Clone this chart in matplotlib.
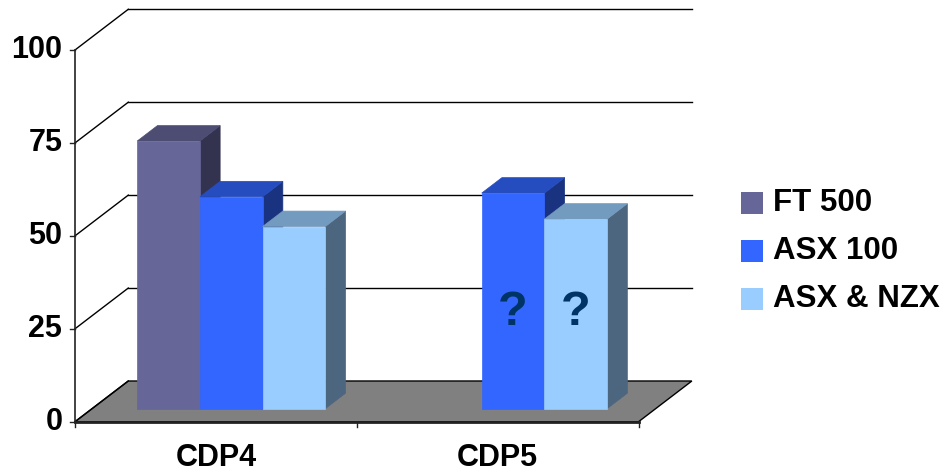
import matplotlib
matplotlib.use("Agg")
import matplotlib.pyplot as plt
from matplotlib.patches import Polygon

categories = ['CDP4', 'CDP5']
series = ['FT 500', 'ASX 100', 'ASX & NZX']
ft500 = [72, None]
asx100 = [57, 58]
asx_nzx = [49, 51]
yticks = [0, 25, 50, 75, 100]

# front, top, side shades for each series
colors = [
    ('#666699', '#4d4d73', '#333350'),
    ('#3366ff', '#264dbf', '#1a3380'),
    ('#99ccff', '#739abf', '#4d6680'),
]

# oblique depth offset (category units, value units)
DX, DY = 0.189, 10.95
BAR_W = 0.2225
Z0, Z1 = 0.32, 0.70

plt.rcParams['font.family'] = ['Liberation Sans', 'DejaVu Sans']

fig = plt.figure(figsize=(9.43, 4.73), dpi=100)
ax = fig.add_axes([0, 0, 1, 1])
ax.set_xlim(-75 / 281.8, (943 - 75) / 281.8)
ax.set_ylim((421.7 - 473) / 3.717, 421.7 / 3.717)
ax.axis('off')

ncat = len(categories)


def P(x, y, z):
    return (x + z * DX, y + z * DY)


# floor
floor = Polygon([P(0, 0, 0), P(ncat, 0, 0), P(ncat, 0, 1), P(0, 0, 1)],
                closed=True, facecolor='#808080', edgecolor='black', lw=1, zorder=1)
ax.add_patch(floor)

# back-wall gridlines and left-wall diagonals
for v in yticks:
    x0, y0 = P(0, v, 1)
    x1, y1 = P(ncat, v, 1)
    if v > 0:
        ax.plot([x0, x1], [y0, y1], color='black', lw=1, zorder=0.5)
    fx, fy = P(0, v, 0)
    ax.plot([fx, x0], [fy, y0], color='black', lw=1, zorder=2)

# front axes
ax.plot([0, 0], [0, 100], color='#222222', lw=1.2, zorder=3)
ax.plot([0, ncat], [0, 0], color='#222222', lw=2, zorder=3)
for v in yticks:
    ax.plot([-0.018, 0], [v, v], color='#222222', lw=1, zorder=3)
    ax.text(-0.045, v, str(v), ha='right', va='center', fontsize=22,
            fontweight='bold', zorder=3)
for i in range(ncat + 1):
    ax.plot([i, i], [0, -1.5], color='#222222', lw=1, zorder=3)
for i, c in enumerate(categories):
    ax.text(i + 0.5, -9.9, c, ha='center', va='center', fontsize=22,
            fontweight='bold')


def bar3d(x, h, cols, z):
    front, top, side = cols
    faces = [
        ([P(x + BAR_W, 0, Z0), P(x + BAR_W, 0, Z1), P(x + BAR_W, h, Z1), P(x + BAR_W, h, Z0)], side),
        ([P(x, h, Z0), P(x + BAR_W, h, Z0), P(x + BAR_W, h, Z1), P(x, h, Z1)], top),
        ([P(x, 0, Z0), P(x + BAR_W, 0, Z0), P(x + BAR_W, h, Z0), P(x, h, Z0)], front),
    ]
    for pts, fc in faces:
        ax.add_patch(Polygon(pts, closed=True, facecolor=fc, edgecolor=fc,
                             lw=0.5, zorder=z))


values = [ft500, asx100, asx_nzx]
z = 4
for i in range(ncat):
    start = i + 0.494 - 1.5 * BAR_W
    for j, vals in enumerate(values):
        if vals[i] is not None:
            bar3d(start + j * BAR_W, vals[i], colors[j], z)
            if i == 1:
                cx, cy = P(start + (j + 0.5) * BAR_W, 26, Z0)
                ax.text(cx, cy, '?', ha='center', va='center', fontsize=35,
                        fontweight='bold', color='#003366', zorder=z + 1)
        z += 1

# legend
for j, name in enumerate(series):
    ypix = 203 + j * 48
    fig.patches.append(plt.Rectangle((741 / 943, 1 - (ypix + 11) / 473), 22 / 943, 22 / 473,
                                     transform=fig.transFigure, facecolor=colors[j][0],
                                     edgecolor='none'))
    fig.text(773 / 943, 1 - ypix / 473, name, ha='left', va='center',
             fontsize=22.5, fontweight='bold')

fig.savefig('out.png', dpi=100)
